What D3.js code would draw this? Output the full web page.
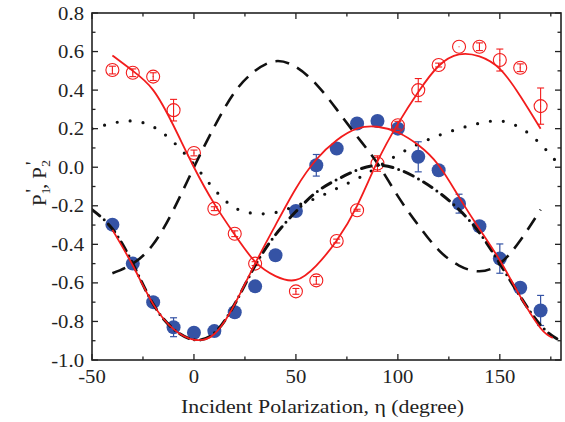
<!DOCTYPE html>
<html><head><meta charset="utf-8">
<script src="https://cdn.jsdelivr.net/npm/d3@7"></script>
<style>
body{margin:0;background:#fff;}
</style></head>
<body><svg id="c" width="565" height="422" font-family="'Liberation Serif', 'Times New Roman', Times, 'DejaVu Serif', serif"></svg>
<script>
// ---- data ----
const etaPts = [-40,-30,-20,-10,0,10,20,30,40,50,60,70,80,90,100,110,120,130,140,150,160,170];
const blueVals = [-0.298,-0.50,-0.70,-0.83,-0.859,-0.85,-0.752,-0.618,-0.457,-0.227,0.01,0.097,0.227,0.24,0.20,0.054,-0.016,-0.189,-0.306,-0.474,-0.625,-0.743];
const blueErr  = [0,0,0,0.049,0,0,0,0,0,0,0.056,0,0,0,0,0.078,0,0.049,0,0.076,0.02,0.078];
const redEta  = [-40,-30,-20,-10,0,10,20,30,50,60,70,80,90,100,110,120,130,140,150,160,170];
const redVals = [0.504,0.49,0.47,0.296,0.074,-0.215,-0.345,-0.50,-0.644,-0.587,-0.383,-0.223,0.019,0.218,0.40,0.53,0.625,0.625,0.556,0.516,0.317];
const redErr  = [0.02,0.02,0.02,0.056,0.015,0.01,0.015,0.01,0.015,0.02,0.01,0.005,0.04,0.02,0.06,0.01,0.0,0.02,0.057,0.02,0.094];

const fit1Eta = [-40,-30,-20,-10,0,10,20,30,40,50,60,70,80,90,100,110,120,130,140,150,160,170];
const fit1Val = [0.58,0.50,0.40,0.215,0.0,-0.19,-0.35,-0.49,-0.565,-0.585,-0.51,-0.38,-0.20,0.03,0.225,0.39,0.525,0.585,0.575,0.51,0.37,0.20];
const fit2Eta = [-40,-30,-20,-10,0,10,20,30,40,50,60,70,80,90,100,110,120,130,140,150,160,170,176];
const fit2Val = [-0.325,-0.51,-0.71,-0.84,-0.895,-0.865,-0.71,-0.50,-0.30,-0.11,0.04,0.14,0.20,0.21,0.18,0.115,0.01,-0.155,-0.32,-0.483,-0.67,-0.835,-0.885];

const dashEta = [-40,-30,-20,-10,0,10,20,30,40,50,60,70,80,90,100,110,120,130,140,150,160,170];
const dashVal = [-0.55,-0.50,-0.40,-0.22,0.0,0.21,0.39,0.50,0.55,0.52,0.43,0.30,0.16,0.02,-0.15,-0.30,-0.43,-0.51,-0.54,-0.50,-0.38,-0.22];
const dashDotEta = [-50,-40,-30,-20,-10,0,10,20,30,40,50,60,70,80,90,100,110,120,130,140,150,160,170,178];
const dashDotVal = [-0.22,-0.32,-0.50,-0.71,-0.84,-0.895,-0.86,-0.71,-0.51,-0.35,-0.23,-0.13,-0.065,-0.015,0.01,-0.01,-0.06,-0.13,-0.22,-0.34,-0.50,-0.67,-0.82,-0.89];
const dotEta = [-50,-40,-30,-20,-10,0,10,20,30,40,50,60,70,80,90,100,110,120,130,140,150,160,170,180];
const dotVal = [0.20,0.228,0.24,0.21,0.13,0.015,-0.115,-0.21,-0.24,-0.235,-0.20,-0.16,-0.11,-0.06,0.0,0.065,0.12,0.165,0.20,0.228,0.24,0.205,0.12,0.0];

const xMajor = [-50,0,50,100,150];
const xMinor = [-25,25,75,125,175];
const yMajor = [-1.0,-0.8,-0.6,-0.4,-0.2,0.0,0.2,0.4,0.6,0.8];
const yMinor = [-0.9,-0.7,-0.5,-0.3,-0.1,0.1,0.3,0.5,0.7];

// ---- layout ----
const L=92, R=561, T=13, B=360;
const x = d3.scaleLinear().domain([-50,180]).range([L,R]);
const y = d3.scaleLinear().domain([-1,0.8]).range([B,T]);
const svg = d3.select("#c");
const RED="#f21c1c", BLUE="#3553a5", INK="#222";
const SX = 1.12; // horizontal stretch of the text

const zip=(a,b)=>a.map((v,i)=>[v,b[i]]);
const line = d3.line().x(d=>x(d[0])).y(d=>y(d[1])).curve(d3.curveNatural);

svg.append("clipPath").attr("id","pc").append("rect").attr("x",L).attr("y",T).attr("width",R-L).attr("height",B-T);
const g = svg.append("g").attr("clip-path","url(#pc)");

function errBars(grp, xs, ys, es, color, w){
  xs.forEach((e,i)=>{
    if(!(es[i]>0)) return;
    const y1=y(ys[i]+es[i]), y2=y(ys[i]-es[i]);
    grp.append("line").attr("x1",x(e)).attr("x2",x(e)).attr("y1",y1).attr("y2",y2).attr("stroke",color).attr("stroke-width",w);
    [y1,y2].forEach(yy=>grp.append("line").attr("x1",x(e)-3.5).attr("x2",x(e)+3.5).attr("y1",yy).attr("y2",yy).attr("stroke",color).attr("stroke-width",w));
  });
}

// blue points
const bl = g.append("g");
errBars(bl, etaPts, blueVals, blueErr, BLUE, 1.2);
bl.selectAll("circle").data(zip(etaPts,blueVals)).join("circle")
  .attr("cx",d=>x(d[0])).attr("cy",d=>y(d[1])).attr("r",7).attr("fill",BLUE);

// red open circles
const rl = g.append("g");
errBars(rl, redEta, redVals, redErr, RED, 1.1);
rl.selectAll("circle.c").data(zip(redEta,redVals)).join("circle")
  .attr("cx",d=>x(d[0])).attr("cy",d=>y(d[1])).attr("r",6.5).attr("fill","none").attr("stroke",RED).attr("stroke-width",1.1);
rl.selectAll("circle.d").data(zip(redEta,redVals)).join("circle")
  .attr("cx",d=>x(d[0])).attr("cy",d=>y(d[1])).attr("r",0.6).attr("fill",RED);

// black theory lines
g.append("path").attr("d",line(zip(dashEta,dashVal))).attr("fill","none").attr("stroke","#111").attr("stroke-width",2.6).attr("stroke-dasharray","14,9");
g.append("path").attr("d",line(zip(dotEta,dotVal))).attr("fill","none").attr("stroke","#111").attr("stroke-width",3.2).attr("stroke-linecap","round").attr("stroke-dasharray","0,13");
g.append("path").attr("d",line(zip(dashDotEta,dashDotVal))).attr("fill","none").attr("stroke","#111").attr("stroke-width",3).attr("stroke-linecap","round").attr("stroke-dasharray","10,6,0,6");

// red fits
g.append("path").attr("d",line(zip(fit1Eta,fit1Val))).attr("fill","none").attr("stroke",RED).attr("stroke-width",1.8);
g.append("path").attr("d",line(zip(fit2Eta,fit2Val))).attr("fill","none").attr("stroke",RED).attr("stroke-width",1.8);

// axes
const fmt = v => (Math.abs(v)<1e-9?0:v).toFixed(1);
const ax = svg.append("g").attr("stroke",INK).attr("fill","none");
ax.append("rect").attr("x",L).attr("y",T).attr("width",R-L).attr("height",B-T).attr("stroke-width",1.6);
function ticks(vals,len){
  vals.forEach(v=>{
    ax.append("line").attr("x1",x(v)).attr("x2",x(v)).attr("y1",B).attr("y2",B-len).attr("stroke-width",1.3);
    ax.append("line").attr("x1",x(v)).attr("x2",x(v)).attr("y1",T).attr("y2",T+len).attr("stroke-width",1.3);
  });
}
function yticks(vals,len){
  vals.forEach(v=>{
    ax.append("line").attr("y1",y(v)).attr("y2",y(v)).attr("x1",L).attr("x2",L+len).attr("stroke-width",1.3);
    ax.append("line").attr("y1",y(v)).attr("y2",y(v)).attr("x1",R).attr("x2",R-len).attr("stroke-width",1.3);
  });
}
ticks(xMajor,6); ticks(xMinor,3.5);
yticks(yMajor,6); yticks(yMinor,3.5);

svg.append("g").selectAll("text").data(xMajor).join("text")
  .attr("transform",d=>`translate(${x(d)},${B+23}) scale(${SX},1)`).attr("text-anchor","middle").attr("font-size",18.5).attr("fill",INK).text(d=>d);
svg.append("g").selectAll("text").data(yMajor).join("text")
  .attr("transform",d=>`translate(${L-8},${y(d)+6.5}) scale(${SX},1)`).attr("text-anchor","end").attr("font-size",18.5).attr("fill",INK).text(fmt);

svg.append("text").attr("transform",`translate(${(L+R)/2-4},413) scale(${SX},1)`).attr("text-anchor","middle").attr("font-size",19.5).attr("fill",INK)
  .text("Incident Polarization, \u03B7 (degree)");

const yt = svg.append("text").attr("transform","translate(46,183) rotate(-90) scale(1.1,1)").attr("text-anchor","middle").attr("font-size",19).attr("fill",INK);
yt.append("tspan").text("P");
yt.append("tspan").attr("font-size",13).attr("dy",4).text("1");
yt.append("tspan").attr("dy",-11).attr("dx",-5).text("'");
yt.append("tspan").attr("dy",7).text(", P");
yt.append("tspan").attr("font-size",13).attr("dy",4).text("2");
yt.append("tspan").attr("dy",-11).attr("dx",-5).text("'");
</script></body></html>
